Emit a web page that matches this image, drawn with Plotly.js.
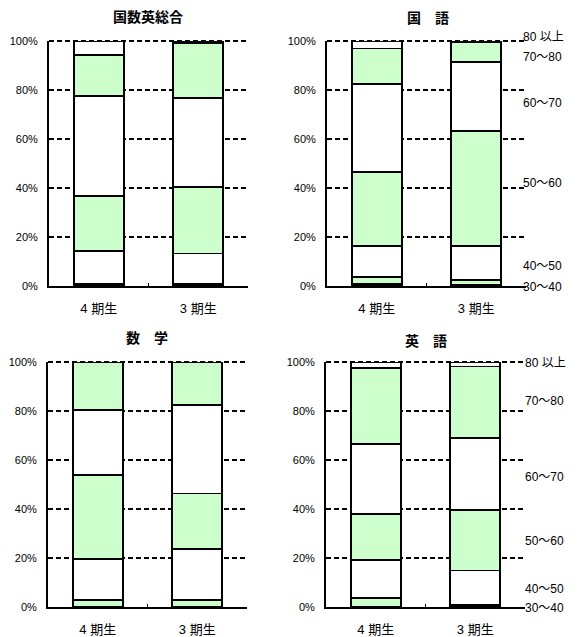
<!DOCTYPE html>
<html>
<head>
<meta charset="utf-8">
<script src="https://cdn.plot.ly/plotly-3.0.1.min.js"></script>
<style>html,body{margin:0;padding:0;background:#fff;}#chart{width:578px;height:637px;}</style>
</head>
<body>
<div id="chart"></div>
<script>
// ---- data ----
const categories = ['4 期生', '3 期生'];
const bands = ['30未満', '30〜40', '40〜50', '50〜60', '60〜70', '70〜80', '80 以上'];
const subjects = ['国数英総合', '国　語', '数　学', '英　語'];
// percentage of students per score band, bottom to top
const sogo4   = [0.3, 0.5, 13.6, 22.3, 40.7, 16.9, 5.7];
const sogo3   = [0.3, 0.5, 12.5, 27.2, 36.4, 22.4, 0.7];
const kokugo4 = [0.7, 3.1, 12.6, 30.0, 36.1, 14.4, 3.1];
const kokugo3 = [0.4, 2.1, 13.9, 46.8, 28.2, 8.0, 0.6];
const sugaku4 = [0, 3.0, 16.7, 34.3, 26.3, 19.7, 0];
const sugaku3 = [0, 3.0, 20.7, 22.6, 36.3, 17.4, 0];
const eigo4   = [0, 3.8, 15.4, 18.6, 28.8, 31.0, 2.4];
const eigo3   = [0.3, 0.4, 14.2, 24.8, 29.3, 29.2, 1.8];
const yTicks = [0, 20, 40, 60, 80, 100];
const yTickText = ['0%', '20%', '40%', '60%', '80%', '100%'];
const rightLabels = ['80 以上', '70〜80', '60〜70', '50〜60', '40〜50', '30〜40'];

// ---- styling ----
const W = 578, H = 637;
const GREEN = '#CCFFCC';
const bandColors = ['#FFFFFF', GREEN, '#FFFFFF', GREEN, '#FFFFFF', GREEN, '#FFFFFF'];
const FONT = '"Liberation Sans", Arial, "Noto Sans CJK JP", sans-serif';
const GRID_DASH = '5px,3px';
const px = v => v / W;
const py = v => 1 - v / H;

const panels = [
  {d4: sogo4,   d3: sogo3,   x: [49, 248],  y: [41, 286],  title: [148, 17]},
  {d4: kokugo4, d3: kokugo3, x: [327, 526], y: [41, 286],  title: [428, 18]},
  {d4: sugaku4, d3: sugaku3, x: [48, 247],  y: [362, 607], title: [147, 338]},
  {d4: eigo4,   d3: eigo3,   x: [326, 525], y: [362, 607], title: [426, 341]}
];

const data = [];
const layout = {
  width: W, height: H, autosize: false,
  margin: {l: 0, r: 0, t: 0, b: 0},
  paper_bgcolor: '#fff', plot_bgcolor: 'rgba(0,0,0,0)',
  barmode: 'stack', bargap: 0.5, showlegend: false,
  font: {family: FONT, color: '#000', size: 11},
  annotations: [], shapes: []
};

panels.forEach((p, k) => {
  const n = k + 1;
  const xa = n === 1 ? 'x' : 'x' + n;
  const ya = n === 1 ? 'y' : 'y' + n;
  bands.forEach((b, i) => {
    data.push({
      type: 'bar', name: b, x: categories, y: [p.d4[i], p.d3[i]],
      xaxis: xa, yaxis: ya,
      marker: {color: bandColors[i], line: {color: '#000', width: 1.8}},
      hoverinfo: 'name+y'
    });
  });
  layout['xaxis' + (n === 1 ? '' : n)] = {
    domain: [px(p.x[0]), px(p.x[1])], anchor: ya,
    type: 'category', range: [-0.5, 1.5], fixedrange: true,
    showline: true, linecolor: '#000', linewidth: 2,
    showgrid: false, zeroline: false,
    ticks: 'inside', tickson: 'boundaries', ticklen: 3, tickwidth: 1.5, tickcolor: '#000',
    tickfont: {family: FONT, size: 13, color: '#000'},
    ticklabelstandoff: 9
  };
  layout['yaxis' + (n === 1 ? '' : n)] = {
    domain: [py(p.y[1]), py(p.y[0])], anchor: xa,
    range: [0, 100], fixedrange: true,
    tickvals: yTicks, ticktext: yTickText,
    showline: true, linecolor: '#000', linewidth: 2,
    showgrid: true, gridcolor: '#000', gridwidth: 2, griddash: GRID_DASH,
    zeroline: false, ticks: '',
    tickfont: {family: FONT, size: 11, color: '#000'},
    ticklabelstandoff: 7
  };
  // dashed gridline along the 100% edge (Plotly clips edge gridlines)
  layout.shapes.push({
    type: 'line', layer: 'below', xref: 'paper', yref: 'paper',
    x0: px(p.x[0]), x1: px(p.x[1]), y0: py(p.y[0]), y1: py(p.y[0]),
    line: {color: '#000', width: 2, dash: GRID_DASH}
  });
  layout.annotations.push({
    xref: 'paper', yref: 'paper', x: px(p.title[0]), y: py(p.title[1]),
    xanchor: 'center', yanchor: 'middle', showarrow: false,
    text: '<b>' + subjects[k] + '</b>',
    font: {family: FONT, size: 14, color: '#000'}
  });
});

// band labels at right of 国語 and 英語 panels
const labelY2 = [37, 57, 103, 183, 266, 286.7];
const labelY4 = [363.3, 400.8, 476.8, 540.8, 589, 607.5];
rightLabels.forEach((t, i) => {
  layout.annotations.push({xref: 'paper', yref: 'paper', x: px(521), y: py(labelY2[i]),
    xanchor: 'left', yanchor: 'middle', showarrow: false, text: t,
    font: {family: FONT, size: 12, color: '#000'}});
  layout.annotations.push({xref: 'paper', yref: 'paper', x: px(523), y: py(labelY4[i]),
    xanchor: 'left', yanchor: 'middle', showarrow: false, text: t,
    font: {family: FONT, size: 12, color: '#000'}});
});

Plotly.newPlot('chart', data, layout, {staticPlot: true, displayModeBar: false});
</script>
</body>
</html>
